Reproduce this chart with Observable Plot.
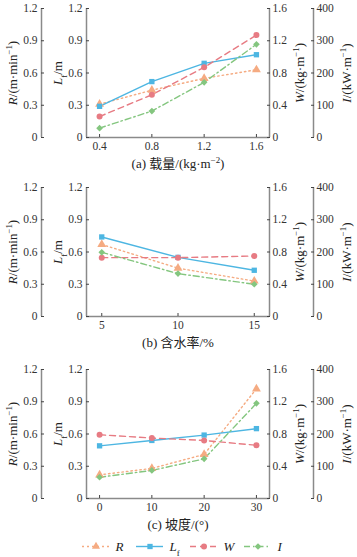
<!DOCTYPE html>
<html><head><meta charset="utf-8">
<script src="https://cdn.jsdelivr.net/npm/d3@7"></script>
<script src="https://cdn.jsdelivr.net/npm/@observablehq/plot@0.6"></script>
<style>
html,body{margin:0;padding:0;background:#fff;}
#chart{width:357px;}
#chart svg{display:block;}
</style></head><body><div id="chart"></div>
<script>
// ---- series definitions ----
const seriesKeys = ["R", "Lf", "W", "I"];
const seriesNames = ["*R*", "*L*_{f}", "*W*", "*I*"];
const seriesColors = ["#f5ab82", "#4db6e2", "#e77b83", "#84c67f"];
const seriesSymbols = ["triangle", "square", "circle", "diamond2"];
const seriesDash = ["1.5,3", null, "6,4", "6,3,1.5,3"];
const axisMax = [1.2, 1.2, 1.6, 400];

// ---- axis tick labels ----
const leftTicks = [0, 0.3, 0.6, 0.9, 1.2];
const wTicks = [0, 0.4, 0.8, 1.2, 1.6];
const iTicks = [0, 100, 200, 300, 400];
const yLabels = ["*R*/(m·min^{−1})", "*L*_{f}/m", "*W*/(kg·m^{−1})", "*I*/(kW·m^{−1})"];

// ---- panel (a) 载量 ----
const xA = [0.4, 0.8, 1.2, 1.6];
const rA = [0.31, 0.44, 0.55, 0.63];
const lfA = [0.29, 0.52, 0.69, 0.77];
const wA = [0.26, 0.53, 0.87, 1.27];
const iA = [29, 82, 171, 289];

// ---- panel (b) 含水率 ----
const xB = [5, 10, 15];
const rB = [0.67, 0.45, 0.33];
const lfB = [0.74, 0.55, 0.43];
const wB = [0.73, 0.73, 0.75];
const iB = [199, 133, 100];

// ---- panel (c) 坡度 ----
const xC = [0, 10, 20, 30];
const rC = [0.22, 0.28, 0.41, 1.02];
const lfC = [0.49, 0.54, 0.59, 0.65];
const wC = [0.79, 0.75, 0.72, 0.66];
const iC = [66, 87, 123, 295];

const panels = [
  {x: xA, vals: [rA, lfA, wA, iA], domain: [0.3, 1.7], caption: "(a) 载量/(kg·m^{−2})", height: 179},
  {x: xB, vals: [rB, lfB, wB, iB], domain: [4, 16], caption: "(b) 含水率/%", height: 182},
  {x: xC, vals: [rC, lfC, wC, iC], domain: [-2.5, 32.5], caption: "(c) 坡度/(°)", height: 179}
];

const FONT = "'Liberation Serif','Times New Roman','Noto Sans CJK SC',serif";
const AX = "#8a8a8a";
const fmt = v => (v === 0 ? "0" : (Number.isInteger(v) ? String(v) : v.toFixed(1)));

function rich(el) {
  const s = el.textContent;
  if (!/[*^_]/.test(s)) return;
  el.textContent = "";
  const re = /\*([^*]+)\*|\^\{([^}]+)\}|_\{([^}]+)\}|([^*^_]+)/g;
  let m;
  while ((m = re.exec(s))) {
    const t = document.createElementNS("http://www.w3.org/2000/svg", "tspan");
    if (m[1] != null) { t.textContent = m[1]; t.setAttribute("font-style", "italic"); }
    else if (m[2] != null) { t.textContent = m[2]; t.setAttribute("font-size", "0.68em"); t.setAttribute("baseline-shift", "super"); }
    else if (m[3] != null) { t.textContent = m[3]; t.setAttribute("font-size", "0.68em"); t.setAttribute("baseline-shift", "sub"); }
    else { t.textContent = m[4]; }
    el.appendChild(t);
  }
}

function panel(p) {
  const data = [];
  seriesKeys.forEach((k, i) => p.x.forEach((x, j) => data.push({k, i, x, v: p.vals[i][j] / axisMax[i]})));
  const [x0, x1] = p.domain;
  const lbl = (text, anchor, dx) => Plot.text([text], {text: d => d, frameAnchor: anchor, dx, rotate: -90,
    textAnchor: "middle", lineAnchor: "middle", fontSize: 13, fill: "#222"});
  const marks = [
    Plot.ruleX([x0], {stroke: AX, strokeWidth: 1.5, dx: -45}),
    Plot.ruleX([x0], {stroke: AX, strokeWidth: 1.5}),
    Plot.ruleX([x1], {stroke: AX, strokeWidth: 1.5}),
    Plot.ruleX([x1], {stroke: AX, strokeWidth: 1.5, dx: 44}),
    Plot.ruleY([0], {stroke: AX, strokeWidth: 1.5}),
    Plot.axisY(leftTicks.map(t => t / axisMax[0]), {anchor: "left", dx: -45, tickSize: -3, tickPadding: 7, tickFormat: d => fmt(+(d * axisMax[0]).toFixed(2)), label: null, stroke: "#444", fill: "#333"}),
    Plot.axisY(leftTicks.map(t => t / axisMax[1]), {anchor: "left", tickSize: -3, tickPadding: 7, tickFormat: d => fmt(+(d * axisMax[1]).toFixed(2)), label: null, stroke: "#444", fill: "#333"}),
    Plot.axisY(wTicks.map(t => t / axisMax[2]), {anchor: "right", tickSize: -3, tickPadding: 6, tickFormat: d => fmt(+(d * axisMax[2]).toFixed(2)), label: null, stroke: "#444", fill: "#333"}),
    Plot.axisY(iTicks.map(t => t / axisMax[3]), {anchor: "right", dx: 44, tickSize: -3, tickPadding: 6, tickFormat: d => fmt(Math.round(d * axisMax[3])), label: null, stroke: "#444", fill: "#333"}),
    Plot.axisX(p.x, {anchor: "bottom", tickSize: -3, tickPadding: 7, tickFormat: d => String(d), label: null, stroke: "#444", fill: "#333"}),
    lbl(yLabels[0], "left", -74),
    lbl(yLabels[1], "left", -29),
    lbl(yLabels[2], "right", 30),
    lbl(yLabels[3], "right", 77),
    Plot.text([p.caption], {text: d => d, frameAnchor: "bottom", dy: 26, lineAnchor: "middle", fontSize: 13, fill: "#222"})
  ];
  seriesKeys.forEach((k, i) => {
    const d = data.filter(e => e.k === k);
    marks.push(Plot.line(d, {x: "x", y: "v", stroke: seriesColors[i], strokeWidth: 1.4, strokeDasharray: seriesDash[i]}));
  });
  seriesKeys.forEach((k, i) => {
    const d = data.filter(e => e.k === k);
    marks.push(Plot.dot(d, {x: "x", y: "v", symbol: seriesSymbols[i], fill: seriesColors[i], r: i === 0 ? 3.3 : 3}));
  });
  const svg = Plot.plot({
    width: 357, height: p.height, marginTop: 8, marginBottom: p.height - 137, marginLeft: 86, marginRight: 88,
    x: {domain: p.domain}, y: {domain: [0, 1]},
    style: {fontFamily: FONT, fontSize: "11.5px", color: "#333", background: "#fff"},
    marks
  });
  svg.querySelectorAll("text").forEach(rich);
  return svg;
}

function legend() {
  const items = seriesKeys.map((k, i) => ({i, x: 82 + i * 54}));
  const svg = Plot.plot({
    width: 357, height: 17, margin: 0,
    x: {domain: [0, 357], range: [0, 357]}, y: {domain: [0, 1], range: [0, 12]},
    axis: null,
    style: {fontFamily: FONT, fontSize: "13px", background: "#fff"},
    marks: [
      ...items.map(d => Plot.ruleY([0.5], {x1: d.x, x2: d.x + 27, stroke: seriesColors[d.i], strokeWidth: 1.4, strokeDasharray: d.i === 0 ? "2,3" : seriesDash[d.i]})),
      Plot.dot(items, {x: d => d.x + 13.5, y: 0.5, symbol: d => seriesSymbols[d.i], fill: d => seriesColors[d.i], r: 3}),
      Plot.text(items, {x: d => d.x + 33, y: 0.5, text: d => seriesNames[d.i], textAnchor: "start", fill: "#222"})
    ]
  });
  svg.querySelectorAll("text").forEach(rich);
  return svg;
}

const root = document.getElementById("chart");
panels.forEach(p => root.appendChild(panel(p)));
root.appendChild(legend());
</script></body></html>
